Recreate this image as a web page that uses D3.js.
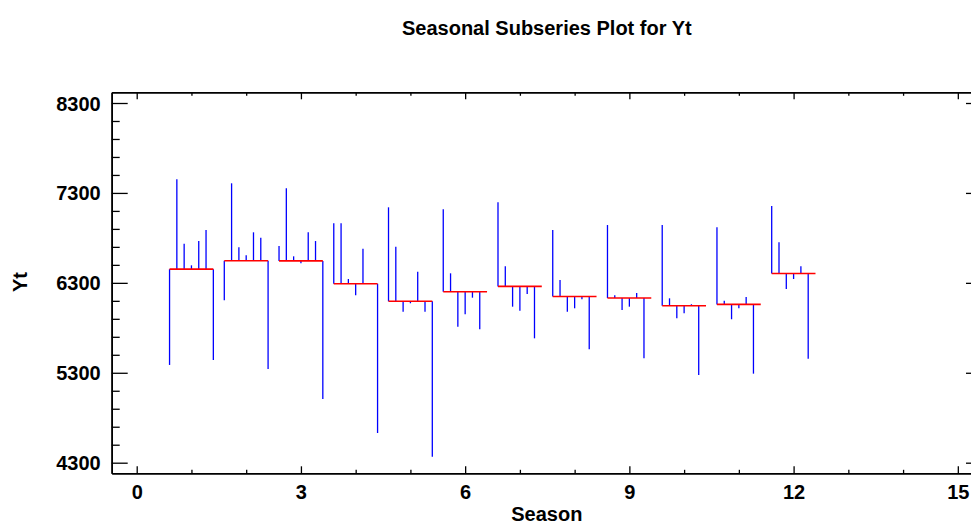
<!DOCTYPE html>
<html>
<head>
<meta charset="utf-8">
<script src="https://cdn.jsdelivr.net/npm/d3@7"></script>
<style>
  html, body { margin: 0; padding: 0; background: #fff; }
  svg { display: block; font-family: "Liberation Sans", Arial, sans-serif; }
</style>
</head>
<body>
<svg id="chart" width="971" height="526"></svg>
<script>
// ---- data ----
const seasons = [1, 2, 3, 4, 5, 6, 7, 8, 9, 10, 11, 12];
const year1 = [5387, 6106, 6710, 6962, 7140, 7118, 7196, 6888, 6943, 6943, 6918, 7155];
const year2 = [7452, 7407, 7351, 6962, 6702, 6406, 6484, 6332, 6162, 6128, 6100, 6751];
const year3 = [6736, 6695, 6595, 6343, 5979, 5813, 6035, 5979, 5998, 5906, 5895, 6232];
const year4 = [6495, 6606, 6518, 6162, 6073, 5950, 5990, 6017, 6035, 5962, 6017, 6343];
const year5 = [6765, 6862, 6862, 6680, 6424, 6135, 6176, 6117, 6187, 6062, 6143, 6484];
const year6 = [6888, 6802, 6765, 6290, 5979, 5784, 5683, 5561, 5461, 5275, 5290, 5457];
const year7 = [5442, 5342, 5009, 4630, 4367];
const years = [year1, year2, year3, year4, year5, year6, year7];
const xTicks = [0, 3, 6, 9, 12, 15];
const xMinorTicks = [1, 2, 4, 5, 7, 8, 10, 11, 13, 14];
const yTicks = [4300, 5300, 6300, 7300, 8300];
const yMinorTicks = [4500, 4700, 4900, 5100, 5500, 5700, 5900, 6100, 6500, 6700, 6900, 7100, 7500, 7700, 7900, 8100];
const titleText = "Seasonal Subseries Plot for Yt";
const xLabel = "Season";
const yLabel = "Yt";

// ---- layout ----
const L = 111.7, R = 982, T = 92.3, B = 473.3;
const svg = d3.select("#chart");
svg.append("rect").attr("width", 971).attr("height", 526).attr("fill", "#fff");

const x = d3.scaleLinear().domain([-0.4568, 15.4417]).range([L, R]);
const y = d3.scaleLinear().domain([4182.1, 8419.0]).range([B, T]);

// ---- marks ----
const halfW = 0.4, nSlots = 7;
const marks = svg.append("g");
seasons.forEach((s, i) => {
  const vals = years.map(yr => yr[i]).filter(v => v !== undefined && v !== null);
  const m = d3.mean(vals);
  vals.forEach((v, k) => {
    const xp = x(s - halfW + k * (2 * halfW) / (nSlots - 1));
    marks.append("line")
      .attr("x1", xp).attr("x2", xp)
      .attr("y1", y(m)).attr("y2", y(v))
      .attr("stroke", "#0000ff").attr("stroke-width", 1.3);
  });
  marks.append("line")
    .attr("x1", x(s - halfW)).attr("x2", x(s + halfW))
    .attr("y1", y(m)).attr("y2", y(m))
    .attr("stroke", "#ff0000").attr("stroke-width", 1.6);
});

// ---- axes ----
function styleAxis(g) {
  g.selectAll("path.domain").attr("stroke", "#000").attr("stroke-width", 1.6);
  g.selectAll(".tick line").attr("stroke", "#000").attr("stroke-width", 1.3);
  g.selectAll(".tick text").attr("fill", "#000")
    .attr("font-size", "20px").attr("font-weight", "bold")
    .attr("font-family", "'Liberation Sans', Arial, sans-serif");
}

// left
svg.append("g").attr("transform", `translate(${L},0)`)
  .call(d3.axisLeft(y).tickValues(yMinorTicks).tickFormat("").tickSizeInner(-8).tickSizeOuter(0))
  .call(styleAxis);
svg.append("g").attr("transform", `translate(${L},0)`)
  .call(d3.axisLeft(y).tickValues(yTicks).tickFormat(d3.format("d")).tickSizeInner(-16).tickSizeOuter(0).tickPadding(11))
  .call(styleAxis)
  .call(g => g.selectAll(".tick text").attr("dy", "0.35em"));
// right
svg.append("g").attr("transform", `translate(${R},0)`)
  .call(d3.axisRight(y).tickValues(yMinorTicks).tickFormat("").tickSizeInner(-8).tickSizeOuter(0))
  .call(styleAxis);
svg.append("g").attr("transform", `translate(${R},0)`)
  .call(d3.axisRight(y).tickValues(yTicks).tickFormat("").tickSizeInner(-16).tickSizeOuter(0))
  .call(styleAxis);
// bottom
svg.append("g").attr("transform", `translate(0,${B})`)
  .call(d3.axisBottom(x).tickValues(xMinorTicks).tickFormat("").tickSizeInner(-3.5).tickSizeOuter(0))
  .call(styleAxis);
svg.append("g").attr("transform", `translate(0,${B})`)
  .call(d3.axisBottom(x).tickValues(xTicks).tickFormat(d3.format("d")).tickSizeInner(-7).tickSizeOuter(0).tickPadding(11.5))
  .call(styleAxis);
// top
svg.append("g").attr("transform", `translate(0,${T})`)
  .call(d3.axisTop(x).tickValues(xMinorTicks).tickFormat("").tickSizeInner(-3.5).tickSizeOuter(0))
  .call(styleAxis);
svg.append("g").attr("transform", `translate(0,${T})`)
  .call(d3.axisTop(x).tickValues(xTicks).tickFormat("").tickSizeInner(-7).tickSizeOuter(0))
  .call(styleAxis);

// ---- titles ----
const cx = (L + R) / 2;
svg.append("text").attr("x", cx).attr("y", 35)
  .attr("text-anchor", "middle").attr("font-size", "20px").attr("font-weight", "bold")
  .text(titleText);
svg.append("text").attr("x", cx).attr("y", 521)
  .attr("text-anchor", "middle").attr("font-size", "20px").attr("font-weight", "bold")
  .text(xLabel);
svg.append("text").attr("transform", `translate(27,282) rotate(-90)`)
  .attr("text-anchor", "middle").attr("font-size", "20px").attr("font-weight", "bold")
  .text(yLabel);
</script>
</body>
</html>
